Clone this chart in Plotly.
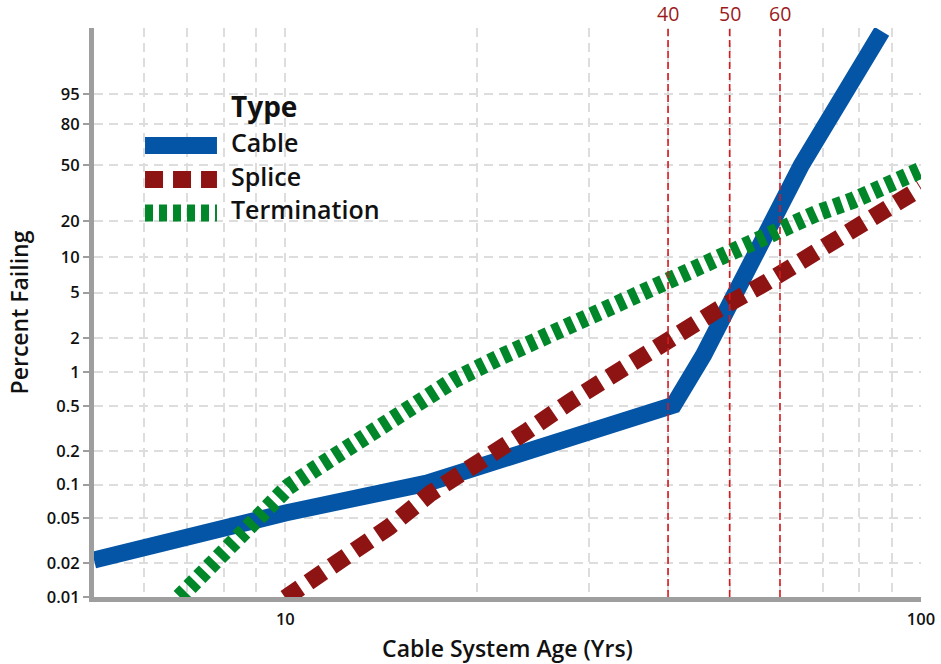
import numpy as np
import plotly.graph_objects as go

# ---------------- data ----------------
cable_age = [5.0, 10.0, 16.7, 40.8, 45.5, 46.9, 51.05, 54.5, 58.2, 61.2, 64.8, 68.2, 70.7, 75.1, 81.7, 86.8]
cable_pct = [0.0213, 0.056, 0.103, 0.51, 1.415, 2.0, 5.0, 10.0, 20.0, 33.2, 50.0, 67.4, 80.0, 95.0, 99.81, 99.998]

splice_age = [10.0, 12.24, 14.56, 16.95, 20.1, 23.9, 28.3, 33.4, 40.1, 47.8, 56.9, 67.7, 80.2, 95.1, 100.0]
splice_pct = [0.0098, 0.0213, 0.0419, 0.0842, 0.165, 0.294, 0.565, 1.04, 1.92, 3.52, 6.04, 10.46, 17.8, 30.4, 35.4]

term_age = [6.82, 8.14, 10.1, 11.07, 13.16, 15.6, 18.42, 21.8, 25.9, 30.6, 36.2, 42.9, 47.8, 53.9, 60.7, 68.7, 78.2, 88.4, 100.0]
term_pct = [0.01, 0.0278, 0.0953, 0.135, 0.249, 0.461, 0.85, 1.36, 2.12, 3.31, 5.05, 7.5, 10.06, 13.4, 17.8, 23.0, 28.8, 36.0, 46.8]

series_names = ["Cable", "Splice", "Termination"]
ref_ages = [40, 50, 60]

y_tick_pct = [0.01, 0.02, 0.05, 0.1, 0.2, 0.5, 1, 2, 5, 10, 20, 50, 80, 95]
y_tick_text = ["0.01", "0.02", "0.05", "0.1", "0.2", "0.5", "1", "2", "5", "10", "20", "50", "80", "95"]
x_grid_vals = [6, 7, 8, 9, 10, 20, 30, 40, 50, 60, 70, 80, 90, 100]
x_tick_text = ["", "", "", "", "10", "", "", "", "", "", "", "", "", "100"]

# ---------------- Weibull probability scale ----------------
def wb(pct):
    p = np.asarray(pct, dtype=float) / 100.0
    return np.log(-np.log(1.0 - p))

Y_MIN = float(wb(0.01))
Y_MAX = 2.45

FONT = "Open Sans"
TXT = "#111111"
BLUE = "#0455A6"
RED = "#8E1414"
GREEN = "#01862A"
REFRED = "#D7191C"
LW = 17
styles = [
    dict(color=BLUE, width=LW, dash="solid"),
    dict(color=RED, width=LW, dash="18px,10px"),
    dict(color=GREEN, width=LW, dash="8px,6px"),
]

fig = go.Figure()

for name, xs, ps, st in zip(series_names,
                            [cable_age, splice_age, term_age],
                            [cable_pct, splice_pct, term_pct], styles):
    fig.add_trace(go.Scatter(x=xs, y=wb(ps), mode="lines", name=name,
                             showlegend=False, line=st))

for a in ref_ages:
    fig.add_trace(go.Scatter(x=[a, a], y=[Y_MIN, Y_MAX], mode="lines", showlegend=False,
                             hoverinfo="skip",
                             line=dict(color=REFRED, width=1.6, dash="7px,4px")))
    fig.add_annotation(x=np.log10(a), y=1, xref="x", yref="paper", yanchor="bottom",
                       text=str(a), showarrow=False, yshift=-1,
                       font=dict(family=FONT, size=19.5, weight=500, color="#9B1B1B"))

# ---------------- legend (drawn so the sample strokes keep their full width) -------------
leg_x0, leg_x1, leg_tx = 0.0617, 0.1487, 0.1633
leg_line_y = [0.7935, 0.7337, 0.6749]
leg_text_y = [0.7990, 0.7405, 0.6820]
fig.add_annotation(x=leg_tx, y=0.8635, xref="paper", yref="paper", xanchor="left",
                   yanchor="middle", text="<b>Type</b>", showarrow=False,
                   font=dict(family=FONT, size=28, color=TXT))
for name, st, ly, ty in zip(series_names, styles, leg_line_y, leg_text_y):
    fig.add_shape(type="line", xref="paper", yref="paper", x0=leg_x0, x1=leg_x1,
                  y0=ly, y1=ly, line=st)
    fig.add_annotation(x=leg_tx, y=ty, xref="paper", yref="paper", xanchor="left",
                       yanchor="middle", text=name, showarrow=False,
                       font=dict(family=FONT, size=25, weight=600, color=TXT))

fig.update_layout(
    width=941, height=664,
    margin=dict(l=94, r=20, t=28, b=67),
    paper_bgcolor="white", plot_bgcolor="white",
    font=dict(family=FONT, color=TXT),
    showlegend=False,
)

fig.update_xaxes(type="log", range=[np.log10(5), 2], automargin=False,
                 tickmode="array", tickvals=x_grid_vals, ticktext=x_tick_text,
                 ticks="", showline=True, linecolor="#9E9E9E", linewidth=5,
                 showgrid=True, gridcolor="#DDDDDD", gridwidth=1.5, griddash="9px,6px",
                 zeroline=False, ticklabelstandoff=3,
                 tickfont=dict(family=FONT, size=16.5, weight=600, color=TXT),
                 title=dict(text="Cable System Age (Yrs)", standoff=16,
                            font=dict(family=FONT, size=23, weight=600, color=TXT)))

fig.update_yaxes(range=[Y_MIN, Y_MAX], automargin=False,
                 tickmode="array", tickvals=wb(y_tick_pct).tolist(), ticktext=y_tick_text,
                 ticks="outside", ticklen=6, tickwidth=2, tickcolor="#9E9E9E",
                 showline=True, linecolor="#9E9E9E", linewidth=5,
                 showgrid=True, gridcolor="#DDDDDD", gridwidth=1.5, griddash="9px,6px",
                 zeroline=False,
                 tickfont=dict(family=FONT, size=16.5, weight=600, color=TXT),
                 title=dict(text="Percent Failing", standoff=13,
                            font=dict(family=FONT, size=23, weight=600, color=TXT)))

fig.write_html("out.html")
